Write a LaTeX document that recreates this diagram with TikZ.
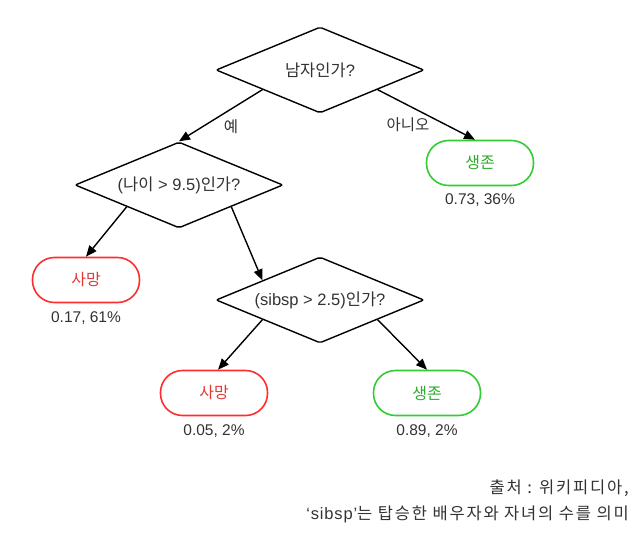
\documentclass[tikz,border=0pt]{standalone}
\usepackage{fontspec}
\setmainfont{Liberation Sans}
\newfontfamily\krfont{Noto Sans CJK KR}
\newfontfamily\capkr[LetterSpace=11]{Noto Sans CJK KR}
\newfontfamily\caplat[LetterSpace=5]{Liberation Sans}
\newcommand\hg[1]{{\krfont #1}}
\usetikzlibrary{shapes.geometric,arrows.meta,calc}
\definecolor{redline}{HTML}{FF2E2E}
\definecolor{redtext}{HTML}{E53935}
\definecolor{greenline}{HTML}{33CC33}
\definecolor{greentext}{HTML}{2EAA2E}
\definecolor{txt}{HTML}{333333}
\begin{document}
\begin{tikzpicture}[x=1pt,y=-1pt,
  question/.style={draw=black,line width=1.4pt,shape=diamond,aspect=2.42,inner sep=0pt,
    minimum width=208pt,minimum height=86pt,rounded corners=2pt,text=txt,font=\fontsize{16.5}{18}\selectfont},
  leaf/.style={line width=1.6pt,rounded corners=22pt,minimum width=107pt,minimum height=45pt,
    inner sep=0pt,font=\fontsize{16}{18}\selectfont\krfont},
  dead/.style={leaf,draw=redline,text=redtext},
  alive/.style={leaf,draw=greenline,text=greentext},
  stat/.style={text=txt,font=\fontsize{15.5}{17}\selectfont,inner sep=0pt},
  elabel/.style={text=txt,font=\fontsize{15.5}{17}\selectfont\krfont,inner sep=0pt},
  caption/.style={anchor=east,text=txt,font=\fontsize{16.5}{19}\selectfont,inner sep=0pt},
  arr/.style={line width=1.4pt,-{Triangle[length=11pt,width=9pt]}}]
\useasboundingbox[fill=white] (0,0) rectangle (644,537);

\node[question] (d1) at (320,70) {\hg{남자인가}?};
\node[question] (d2) at (179,185) {(\hg{나이} > 9.5)\hg{인가}?};
\node[question] (d3) at (320,300) {(sibsp > 2.5)\hg{인가}?};

\node[alive] (s1) at (480,163) {생존};
\node[dead]  (m1) at (86,280) {사망};
\node[dead]  (m2) at (214,393) {사망};
\node[alive] (s2) at (427,393) {생존};

\node[stat] (t1) at (480,200) {0.73, 36\%};
\node[stat] (t2) at (86,318) {0.17, 61\%};
\node[stat] (t3) at (214,431) {0.05, 2\%};
\node[stat] (t4) at (427,431) {0.89, 2\%};

\draw[arr] ($(d1.west)!0.45!(d1.south)$) -- (d2.north);
\draw[arr] ($(d1.east)!0.45!(d1.south)$) -- ($(s1.north)+(-5,0)$);
\draw[arr] ($(d2.west)!0.5!(d2.south)$) -- (m1.north);
\draw[arr] ($(d2.east)!0.5!(d2.south)$) -- ($(d3.west)!0.45!(d3.north)$);
\draw[arr] ($(d3.west)!0.45!(d3.south)$) -- ($(m2.north)+(4,0)$);
\draw[arr] ($(d3.east)!0.45!(d3.south)$) -- (s2.north);

\node[elabel] (yes) at (231,127) {예};
\node[elabel] (no) at (408,125) {아니오};

\node[caption] (c1) at (629,488) {\capkr 출처 : 위키피디아,};
\node[caption] (c2) at (629,514) {{\caplat ‘sibsp’}\capkr 는 탑승한 배우자와 자녀의 수를 의미};
\end{tikzpicture}
\end{document}
